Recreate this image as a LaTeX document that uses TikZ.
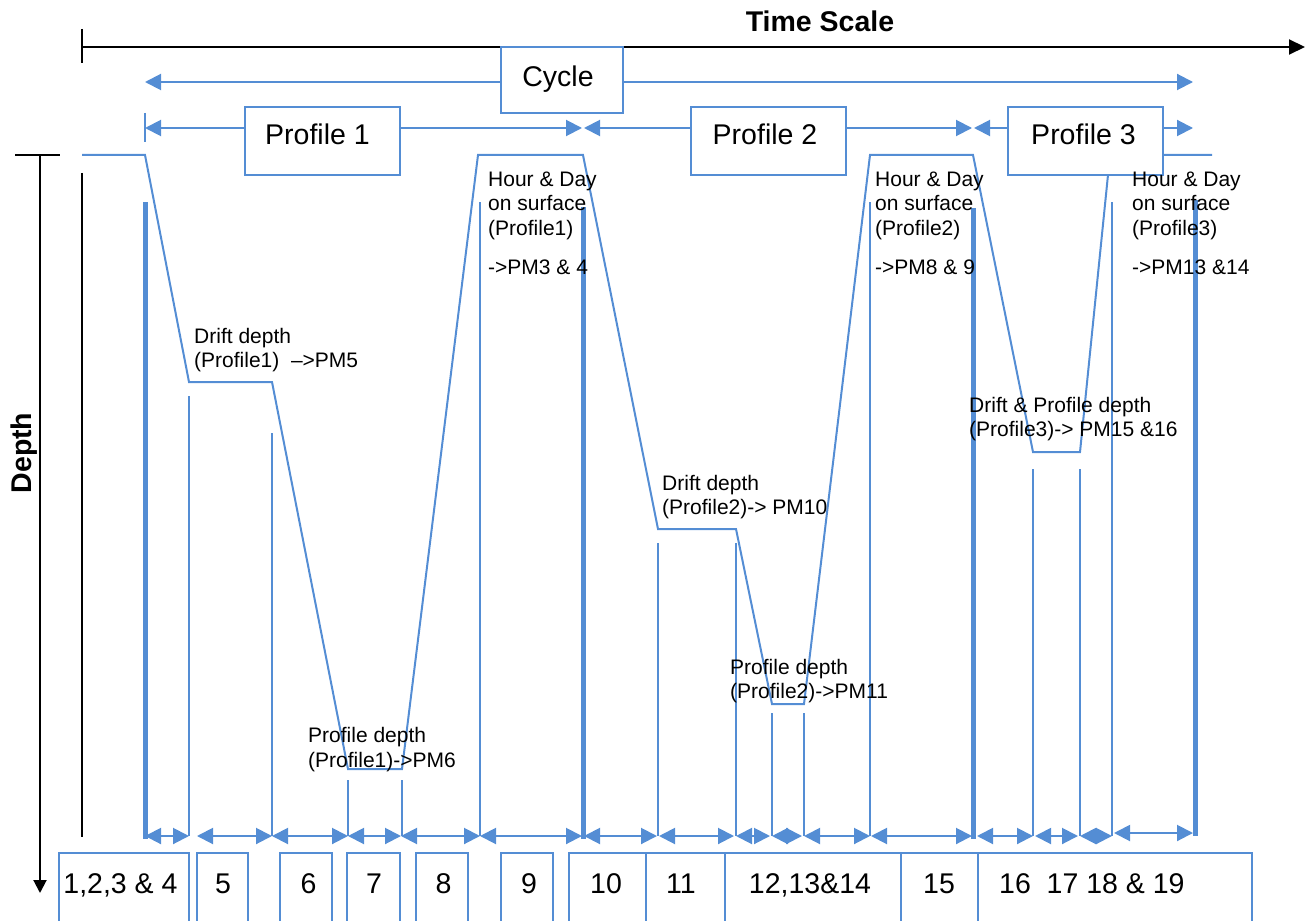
\documentclass[tikz,border=0pt]{standalone}
\usepackage{fontspec}
\setmainfont{Liberation Sans}
\usetikzlibrary{arrows.meta}
\definecolor{pblue}{RGB}{84,141,212}
\tikzset{
  tri/.tip={Triangle[length=16pt,width=16pt]},
  bline/.style={draw=pblue, line width=2pt},
  thin marker/.style={draw=pblue, line width=2pt},
  thick marker/.style={draw=pblue, line width=5pt},
  span/.style={draw=pblue, line width=2pt, {tri}-{tri}},
  boxst/.style={draw=pblue, line width=2pt, fill=white},
  axis/.style={draw=black, line width=2pt},
  bigtxt/.style={anchor=base, inner sep=0pt, font=\fontsize{28.5}{34}\selectfont},
  numtxt/.style={anchor=base, inner sep=0pt, font=\fontsize{28.5}{34}\selectfont},
  lbl/.style={anchor=base west, inner sep=0pt, font=\fontsize{21}{24}\selectfont},
}
\begin{document}
\begin{tikzpicture}[x=1pt,y=-1pt]
\useasboundingbox (0,0) rectangle (1313,920);

% ---- axes
\coordinate (tsL) at (82,47);
\coordinate (tsR) at (1305,47);
\draw[axis, -{Triangle[length=16pt,width=15pt]}] (tsL) -- (tsR);
\draw[axis] (82,29) -- (82,63);
\node[anchor=base, inner sep=0pt, font=\bfseries\fontsize{28.5}{34}\selectfont] (ts) at (820,32) {Time Scale};

\coordinate (dT) at (40,155);
\coordinate (dB) at (40,893);
\draw[axis] (15,155) -- (60,155);
\draw[axis, -{Triangle[length=13pt,width=13pt]}] (dT) -- (dB);
\node[rotate=90, inner sep=0pt, font=\bfseries\fontsize{28.5}{34}\selectfont] (depth) at (24,453) {Depth};
\draw[draw=black, line width=1.5pt] (82,173) -- (82,837);

% ---- vertical markers
\foreach \x/\y in {145/202, 583/207, 973/208}
  \draw[thick marker] (\x,\y) -- (\x,838.5);
\draw[thick marker] (1195,200) -- (1195,835.5);
\foreach \x/\y in {189/396, 272/433, 348/780, 402/780, 480/202, 658/543, 736/543,
                   772/713, 804/713, 870/202, 1033/469, 1080/469, 1112/202}
  \draw[thin marker] (\x,\y) -- (\x,836);

% ---- depth profile
\draw[bline, line join=miter] (82,155) -- (145,155) -- (189,382) -- (272,382) -- (348,769)
  -- (402,769) -- (478,155) -- (583,155) -- (658,529) -- (736,529) -- (772,704)
  -- (804,704) -- (870,155) -- (973,155) -- (1033,452) -- (1080,452) -- (1110,155)
  -- (1212,155);

% ---- bottom spans
\foreach \a/\b in {145/189, 197/272, 272/348, 348/401, 401/480, 480/582, 584/657,
                   659/734, 736/770, 772/802, 804/870, 871/972, 977/1033, 1035/1078,
                   1080/1112}
  \draw[span] (\a,836) -- (\b,836);
\draw[span] (1114,833) -- (1193,833);

% ---- cycle and profile spans
\coordinate (cyL) at (145,82);
\coordinate (cyR) at (1193,82);
\draw[span] (cyL) -- (cyR);
\draw[bline] (145,113) -- (145,142);
\coordinate (p1L) at (145,128);
\coordinate (p1R) at (582,128);
\coordinate (p2L) at (584,128);
\coordinate (p2R) at (972,128);
\coordinate (p3L) at (974,128);
\coordinate (p3R) at (1193,128);
\draw[span] (p1L) -- (p1R);
\draw[span] (p2L) -- (p2R);
\draw[span] (p3L) -- (p3R);

\draw[boxst] (501,47.3) rectangle (622.7,113);
\node[bigtxt] (cycle) at (558,87) {Cycle};
\draw[boxst] (245,107.5) rectangle (400,175);
\node[bigtxt] (prof1) at (317.5,145) {Profile 1};
\draw[boxst] (691,107.5) rectangle (846,175);
\node[bigtxt] (prof2) at (765,145) {Profile 2};
\draw[boxst] (1008,107.5) rectangle (1163,175);
\node[bigtxt] (prof3) at (1083.5,145) {Profile 3};

% ---- bottom boxes
\foreach \a/\b in {59/189, 197/248, 280/332, 347/400, 416/468, 501/553, 569/646,
                   646/725, 725/901, 901/978, 978/1252}
  \draw[bline] (\a,923) -- (\a,853) -- (\b,853) -- (\b,923);
\node[numtxt] (n1) at (120.5,893) {1,2,3 \& 4};
\node[numtxt] (n5) at (223,893) {5};
\node[numtxt] (n6) at (308.5,893) {6};
\node[numtxt] (n7) at (374,893) {7};
\node[numtxt] (n8) at (443.5,893) {8};
\node[numtxt] (n9) at (529,893) {9};
\node[numtxt] (n10) at (606,893) {10};
\node[numtxt] (n11) at (681,893) {11};
\node[numtxt] (n12) at (810,893) {12,13\&14};
\node[numtxt] (n15) at (939,893) {15};
\node[numtxt, anchor=base west] (n16) at (999,893) {16\ \ 17 18 \& 19};

% ---- labels
\node[lbl] (s1a) at (488,186) {Hour \& Day};
\node[lbl] (s1b) at (488,210.5) {on surface};
\node[lbl] (s1c) at (488,235) {(Profile1)};
\node[lbl] (s1d) at (488,274.5) {->PM3 \& 4};

\node[lbl] (s2a) at (875,186) {Hour \& Day};
\node[lbl] (s2b) at (875,210.5) {on surface};
\node[lbl] (s2c) at (875,235) {(Profile2)};
\node[lbl] (s2d) at (875,274.5) {->PM8 \& 9};

\node[lbl] (s3a) at (1132,186) {Hour \& Day};
\node[lbl] (s3b) at (1132,210.5) {on surface};
\node[lbl] (s3c) at (1132,235) {(Profile3)};
\node[lbl] (s3d) at (1132,274.5) {->PM13 \&14};

\node[lbl] (d1a) at (194,343.5) {Drift depth};
\node[lbl] (d1b) at (194,367.5) {(Profile1)\ \ \textendash{}>PM5};
\node[lbl] (pd1a) at (308,742.5) {Profile depth};
\node[lbl] (pd1b) at (308,767) {(Profile1)->PM6};
\node[lbl] (d2a) at (662,490.5) {Drift depth};
\node[lbl] (d2b) at (662,514.5) {(Profile2)-> PM10};
\node[lbl] (pd2a) at (730,674.5) {Profile depth};
\node[lbl] (pd2b) at (730,698) {(Profile2)->PM11};
\node[lbl] (d3a) at (969,412.5) {Drift \& Profile depth};
\node[lbl] (d3b) at (969,436) {(Profile3)-> PM15 \&16};
\end{tikzpicture}
\end{document}
